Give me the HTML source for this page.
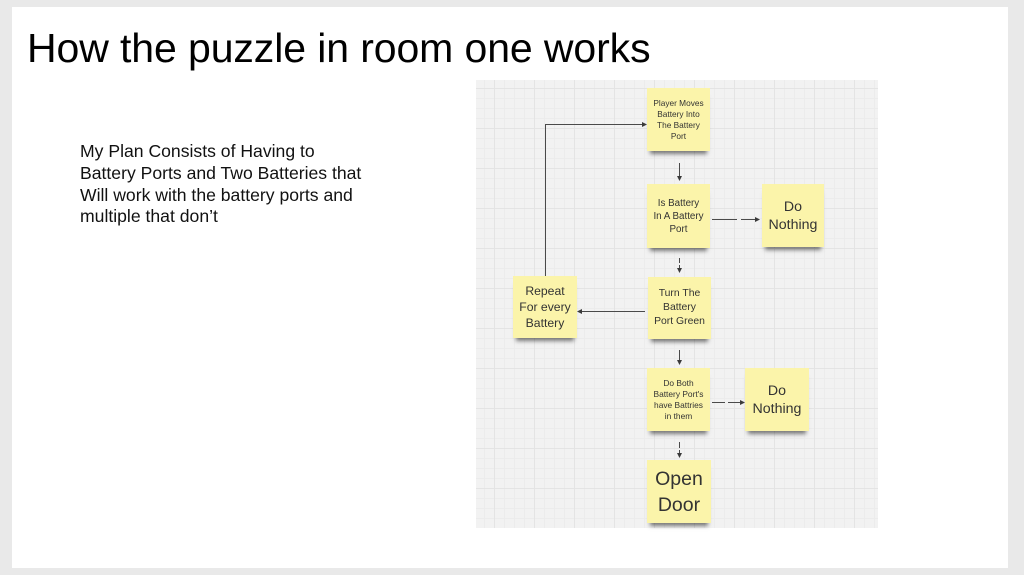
<!DOCTYPE html>
<html>
<head>
<meta charset="utf-8">
<style>
  html,body{margin:0;padding:0;}
  body{width:1024px;height:575px;background:#e9e9e9;position:relative;overflow:hidden;font-family:"Liberation Sans",Arial,sans-serif;}
  .slide{position:absolute;left:12px;top:7px;width:996px;height:561px;background:#fff;}
  .title{position:absolute;left:27px;top:28px;font-size:41px;line-height:41px;color:#000;white-space:nowrap;letter-spacing:-0.1px;}
  .body{position:absolute;left:80px;top:141px;font-size:17.6px;line-height:21.8px;color:#111;white-space:nowrap;}
  .diagram{position:absolute;left:476px;top:80px;width:402px;height:448px;background-color:#f2f2f2;
    background-image:
      linear-gradient(to right,#e4e4e4 1px,transparent 1px),
      linear-gradient(to bottom,#e4e4e4 1px,transparent 1px),
      linear-gradient(to right,#ececec 1px,transparent 1px),
      linear-gradient(to bottom,#ececec 1px,transparent 1px);
    background-size:40px 40px,40px 40px,10px 10px,10px 10px;
    background-position:18px 0,0 8px,8px 0,0 8px;}
  .note{position:absolute;background:#fbf4aa;color:#333;display:flex;align-items:center;justify-content:center;text-align:center;
    font-family:"Liberation Sans","DejaVu Sans",sans-serif;box-shadow:0 6px 4px -3px rgba(0,0,0,0.5);}
  svg{position:absolute;left:0;top:0;}
</style>
</head>
<body>
<div class="slide"></div>
<div class="title">How the puzzle in room one works</div>
<div class="body">My Plan Consists of Having to<br>Battery Ports and Two Batteries that<br>Will work with the battery ports and<br>multiple that don’t</div>

<div class="diagram"></div>

<div class="note" style="left:647px;top:88px;width:63px;height:63px;font-size:8.3px;line-height:11px;">Player Moves<br>Battery Into<br>The Battery<br>Port</div>
<div class="note" style="left:647px;top:184px;width:63px;height:64px;font-size:9.8px;line-height:13px;">Is Battery<br>In A Battery<br>Port</div>
<div class="note" style="left:762px;top:184px;width:62px;height:63px;font-size:14.2px;line-height:18px;">Do<br>Nothing</div>
<div class="note" style="left:513px;top:276px;width:64px;height:62px;font-size:12.2px;line-height:16px;">Repeat<br>For every<br>Battery</div>
<div class="note" style="left:648px;top:277px;width:63px;height:62px;font-size:10.4px;line-height:14px;">Turn The<br>Battery<br>Port Green</div>
<div class="note" style="left:647px;top:368px;width:63px;height:63px;font-size:8.4px;line-height:11px;">Do Both<br>Battery Port's<br>have Battries<br>in them</div>
<div class="note" style="left:745px;top:368px;width:64px;height:63px;font-size:14.2px;line-height:18px;">Do<br>Nothing</div>
<div class="note" style="left:647px;top:460px;width:64px;height:63px;font-size:19.5px;line-height:26px;">Open<br>Door</div>

<svg width="1024" height="575" viewBox="0 0 1024 575">
  <g stroke="#4a4a4a" stroke-width="1" fill="none">
    <polyline points="545.5,276 545.5,124.5 643,124.5"/>
    <line x1="679.5" y1="163" x2="679.5" y2="177"/>
    <line x1="712" y1="219.5" x2="737" y2="219.5"/>
    <line x1="741" y1="219.5" x2="756" y2="219.5"/>
    <line x1="679.5" y1="258" x2="679.5" y2="263"/>
    <line x1="679.5" y1="265" x2="679.5" y2="269"/>
    <line x1="645" y1="311.5" x2="581" y2="311.5"/>
    <line x1="679.5" y1="350" x2="679.5" y2="361"/>
    <line x1="712" y1="402.5" x2="725" y2="402.5"/>
    <line x1="728" y1="402.5" x2="741" y2="402.5"/>
    <line x1="679.5" y1="442" x2="679.5" y2="448"/>
    <line x1="679.5" y1="450" x2="679.5" y2="454"/>
  </g>
  <g fill="#3a3a3a">
    <polygon points="647,124.5 642,122 642,127"/>
    <polygon points="679.5,181 677,176 682,176"/>
    <polygon points="760,219.5 755,217 755,222"/>
    <polygon points="679.5,273 677,268 682,268"/>
    <polygon points="577,311.5 582,309 582,314"/>
    <polygon points="679.5,365 677,360 682,360"/>
    <polygon points="745,402.5 740,400 740,405"/>
    <polygon points="679.5,458 677,453 682,453"/>
  </g>
</svg>
</body>
</html>
